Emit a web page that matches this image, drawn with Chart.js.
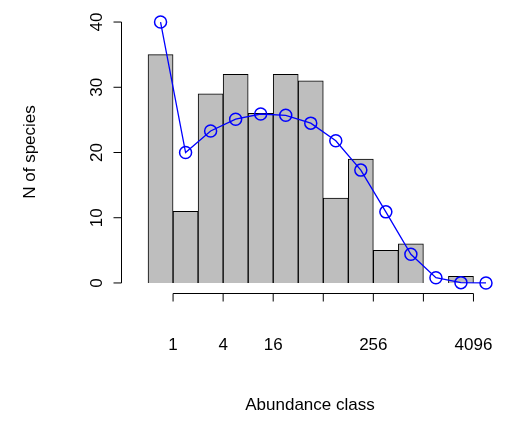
<!DOCTYPE html>
<html><head><meta charset="utf-8">
<script src="https://cdn.jsdelivr.net/npm/chart.js@4"></script>
<style>html,body{margin:0;padding:0;background:#fff;overflow:hidden}</style>
</head><body><canvas id="c" width="505" height="421" style="width:505px;height:421px"></canvas>
<script>
const octaves = [0,1,2,3,4,5,6,7,8,9,10,11,12,13];
const observed = [35,11,29,32,26,32,31,13,19,5,6,0,1,0];
const fitted = [40,20,23.3,25.1,25.9,25.7,24.5,21.8,17.3,10.9,4.4,0.8,0.05,0.0];
const xTicks = [0,2,4,6,8,10,12];
const xTickLabels = ['1','4','16','','256','','4096'];
const yTicks = [0,10,20,30,40];

const axesPlugin = {
  id:'raxes',
  afterDraw(chart){
    const ctx=chart.ctx, x=chart.scales.x, y=chart.scales.y;
    ctx.save();
    ctx.strokeStyle='#000'; ctx.lineWidth=1; ctx.fillStyle='#000';
    ctx.font='17px "Liberation Sans", Arial, sans-serif';
    const ax=121.5;
    ctx.beginPath(); ctx.moveTo(ax,y.getPixelForValue(0)); ctx.lineTo(ax,y.getPixelForValue(40)); ctx.stroke();
    yTicks.forEach(v=>{const py=y.getPixelForValue(v);
      ctx.beginPath(); ctx.moveTo(ax,py); ctx.lineTo(ax-8,py); ctx.stroke();
      ctx.save(); ctx.translate(97,py); ctx.rotate(-Math.PI/2); ctx.textAlign='center'; ctx.textBaseline='middle'; ctx.fillText(String(v),0,0); ctx.restore();});
    const ay=293.5;
    ctx.beginPath(); ctx.moveTo(x.getPixelForValue(0),ay); ctx.lineTo(x.getPixelForValue(12),ay); ctx.stroke();
    xTicks.forEach((v,i)=>{const px=x.getPixelForValue(v);
      ctx.beginPath(); ctx.moveTo(px,ay); ctx.lineTo(px,ay+8); ctx.stroke();
      ctx.textAlign='center'; ctx.textBaseline='middle'; ctx.fillText(xTickLabels[i],px,345);});
    ctx.textAlign='center'; ctx.textBaseline='middle';
    ctx.fillText('Abundance class',310,405);
    ctx.save(); ctx.translate(30,152); ctx.rotate(-Math.PI/2); ctx.fillText('N of species',0,0); ctx.restore();
    ctx.restore();
  }
};

new Chart(document.getElementById('c'),{
  data:{datasets:[
    {type:'line',data:octaves.map((o,i)=>({x:o-0.5,y:fitted[i]})),borderColor:'#0000FF',borderWidth:1.3,
     pointRadius:6,pointBorderWidth:1.5,pointBackgroundColor:'rgba(0,0,0,0)',pointBorderColor:'#0000FF',tension:0,order:0},
    {type:'bar',data:octaves.map((o,i)=>({x:o-0.5,y:observed[i]})),backgroundColor:'#BEBEBE',borderColor:'#000',borderWidth:1,
     categoryPercentage:1,barPercentage:1,order:1}
  ]},
  options:{responsive:false,devicePixelRatio:1,animation:false,
    layout:{padding:{left:121,right:0,top:11.6,bottom:127.6}},
    plugins:{legend:{display:false},tooltip:{enabled:false}},
    scales:{x:{type:'linear',offset:false,min:-2.08,max:12.96,display:false},
            y:{min:-1.6,max:41.6,display:false}}},
  plugins:[axesPlugin]
});
</script></body></html>
